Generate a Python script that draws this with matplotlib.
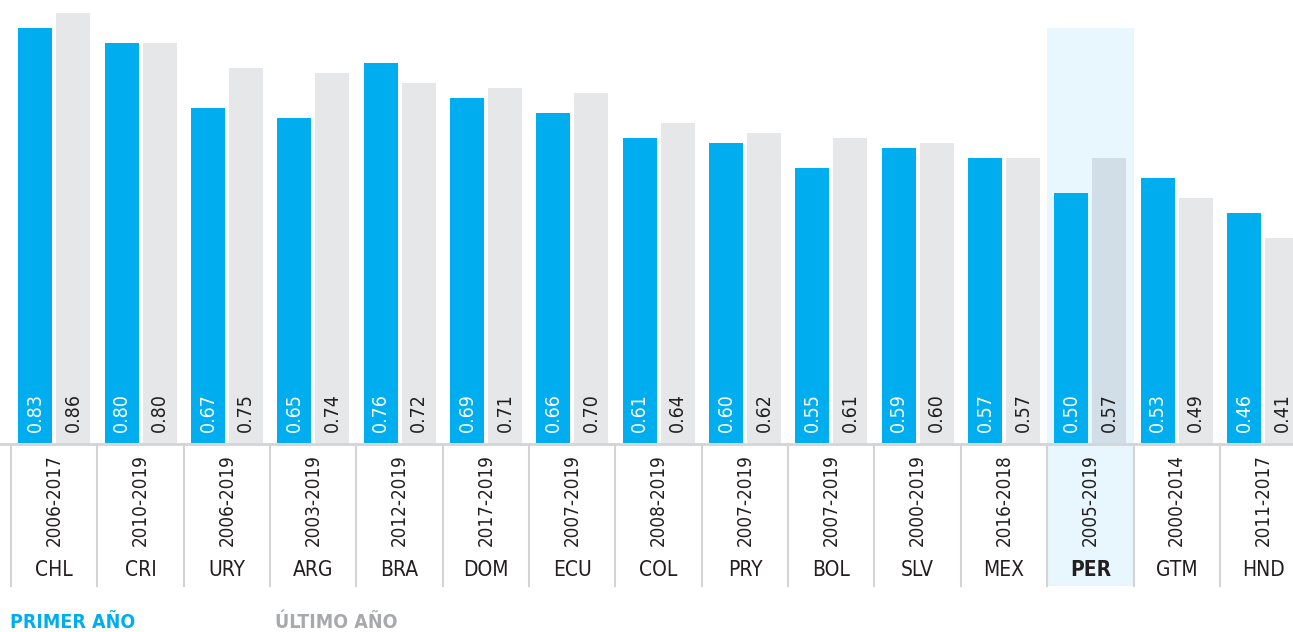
import numpy as np
import matplotlib.pyplot as plt

countries = ["CHL", "CRI", "URY", "ARG", "BRA", "DOM", "ECU", "COL",
             "PRY", "BOL", "SLV", "MEX", "PER", "GTM", "HND"]
periods = ["2006-2017", "2010-2019", "2006-2019", "2003-2019", "2012-2019",
           "2017-2019", "2007-2019", "2008-2019", "2007-2019", "2007-2019",
           "2000-2019", "2016-2018", "2005-2019", "2000-2014", "2011-2017"]
first_year = [0.83, 0.80, 0.67, 0.65, 0.76, 0.69, 0.66, 0.61,
              0.60, 0.55, 0.59, 0.57, 0.50, 0.53, 0.46]
last_year = [0.86, 0.80, 0.75, 0.74, 0.72, 0.71, 0.70, 0.64,
             0.62, 0.61, 0.60, 0.57, 0.57, 0.49, 0.41]
highlight = "PER"

BLUE = "#00aeef"
GRAY = "#e6e7e8"
GRAY_HL = "#d1dee7"
HL_BG = "#e8f6fd"
LINE = "#d3d4d5"
DARK = "#231f20"
LEGEND_GRAY = "#a7a9ac"

plt.rcParams["font.family"] = ["DejaVu Sans"]
plt.rcParams["font.stretch"] = "condensed"

W, H = 1293, 632
fig = plt.figure(figsize=(W / 100, H / 100), dpi=100)

base_px = 443          # pixel row of the bar baseline
px_per_unit = 500      # pixels per 1.0 of value
col_w = 86.35          # column width in pixels
x0_px = 11             # left edge of first column

x_left = -x0_px / col_w - 0.5
x_right = (W - x0_px) / col_w - 0.5

ax = fig.add_axes([0, (H - base_px) / H, 1, base_px / H])
ax.set_xlim(x_left, x_right)
ax.set_ylim(0, base_px / px_per_unit)
ax.axis("off")

tab = fig.add_axes([0, 0, 1, (H - base_px) / H], sharex=ax)
tab.set_ylim(H - base_px, 0)
tab.axis("off")

x = np.arange(len(countries))
hi = countries.index(highlight)
bw = 0.394
off = 0.22

# highlight column
ax.axvspan(hi - 0.5, hi + 0.5, ymin=0, ymax=first_year[0] / (base_px / px_per_unit),
           color=HL_BG, lw=0, zorder=0)
tab.fill_between([hi - 0.5, hi + 0.5], 0, 143, color=HL_BG, lw=0, zorder=0)

gray_cols = [GRAY_HL if c == highlight else GRAY for c in countries]
ax.bar(x - off, first_year, width=bw, color=BLUE, zorder=2)
ax.bar(x + off, last_year, width=bw, color=gray_cols, zorder=2)

for i in range(len(countries)):
    ax.text(x[i] - off, 0.022, f"{first_year[i]:.2f}", rotation=90, ha="center",
            va="bottom", color="white", fontsize=14, zorder=3)
    ax.text(x[i] + off, 0.022, f"{last_year[i]:.2f}", rotation=90, ha="center",
            va="bottom", color=DARK, fontsize=14, zorder=3)
    tab.text(x[i], 57, periods[i], rotation=90, ha="center", va="center",
             color=DARK, fontsize=13.5)
    tab.text(x[i], 127, countries[i], ha="center", va="center", color=DARK,
             fontsize=15, fontweight="bold" if countries[i] == highlight else "normal")

# table grid
for i in range(len(countries) + 1):
    tab.plot([i - 0.5, i - 0.5], [0, 143], color=LINE, lw=1.5, zorder=1)
tab.plot([x_left, x_right], [0.5, 0.5], color=LINE, lw=2, zorder=1)

# legend
fig.text(10 / W, 1 - 623 / H, "PRIMER AÑO", color=BLUE, fontsize=14,
         fontweight="bold", ha="left", va="center")
fig.text(275 / W, 1 - 623 / H, "ÚLTIMO AÑO", color=LEGEND_GRAY, fontsize=14,
         fontweight="bold", ha="left", va="center")

fig.savefig("out.png", dpi=100)
